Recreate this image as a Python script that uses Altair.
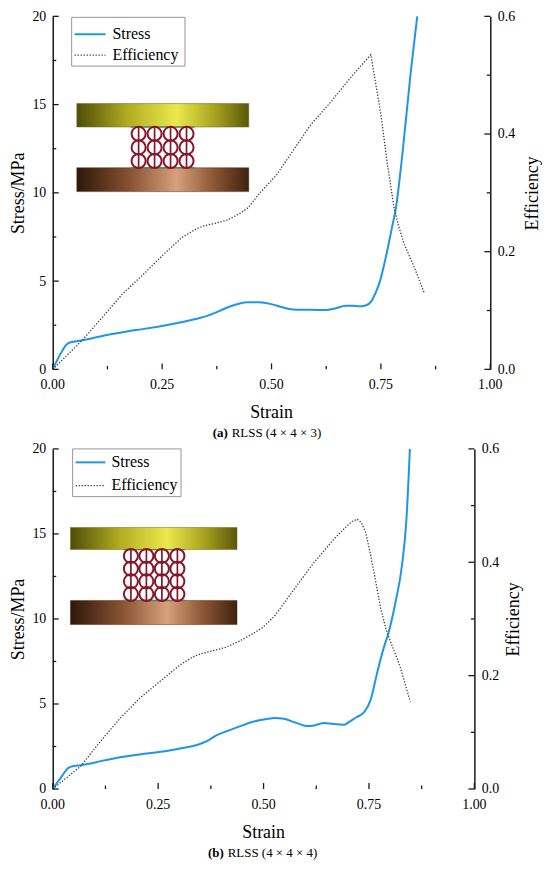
import altair as alt
import pandas as pd

SERIES = ["Stress", "Efficiency"]
PANEL_TAGS = ["(a)", "(b)"]
PANEL_NAMES = ["RLSS (4 × 4 × 3)", "RLSS (4 × 4 × 4)"]
X_TITLE = "Strain"

# ---- panel (a) data ----
A_STRAIN_S = [0, 0.015, 0.034, 0.05, 0.068, 0.10, 0.136, 0.17, 0.205, 0.24, 0.265, 0.30,
              0.326, 0.356, 0.38, 0.40, 0.425, 0.447, 0.47, 0.49, 0.511, 0.535, 0.56, 0.59,
              0.625, 0.645, 0.67, 0.685, 0.70, 0.715, 0.728, 0.739, 0.748, 0.757, 0.766,
              0.775, 0.784, 0.80, 0.818, 0.833]
A_STRESS = [0, 0.75, 1.46, 1.58, 1.65, 1.82, 2.0, 2.15, 2.28, 2.42, 2.53, 2.7,
            2.85, 3.06, 3.3, 3.52, 3.72, 3.8, 3.8, 3.75, 3.62, 3.45, 3.38, 3.38,
            3.36, 3.45, 3.6, 3.6, 3.57, 3.62, 3.85, 4.4, 5.0, 5.9, 6.9,
            8.0, 9.1, 12.4, 16.8, 20.0]
A_STRAIN_E = [0, 0.068, 0.114, 0.159, 0.205, 0.25, 0.295, 0.326, 0.345, 0.37, 0.40, 0.43,
              0.447, 0.47, 0.512, 0.553, 0.59, 0.636, 0.682, 0.727, 0.75, 0.765, 0.78,
              0.79, 0.803, 0.826, 0.849]
A_EFF = [0, 0.05, 0.089, 0.128, 0.16, 0.193, 0.224, 0.238, 0.244, 0.248, 0.254, 0.266,
         0.275, 0.297, 0.331, 0.376, 0.416, 0.455, 0.497, 0.535, 0.433, 0.348, 0.275,
         0.245, 0.213, 0.174, 0.13]

# ---- panel (b) data ----
B_STRAIN_S = [0, 0.02, 0.038, 0.05, 0.066, 0.09, 0.113, 0.145, 0.176, 0.21, 0.247, 0.28,
              0.302, 0.33, 0.349, 0.37, 0.388, 0.415, 0.443, 0.465, 0.49, 0.51, 0.526,
              0.545, 0.553, 0.567, 0.581, 0.595, 0.605, 0.62, 0.644, 0.665, 0.691, 0.705,
              0.72, 0.738, 0.754, 0.77, 0.785, 0.797, 0.813, 0.828, 0.839, 0.847]
B_STRESS = [0, 0.7, 1.26, 1.35, 1.4, 1.5, 1.64, 1.8, 1.93, 2.05, 2.16, 2.28,
            2.38, 2.52, 2.65, 2.88, 3.16, 3.42, 3.68, 3.88, 4.04, 4.13, 4.17,
            4.15, 4.1, 3.98, 3.86, 3.74, 3.7, 3.74, 3.88, 3.82, 3.78, 3.98,
            4.22, 4.5, 5.24, 6.9, 8.3, 9.24, 11.0, 13.1, 15.9, 20.0]
B_STRAIN_E = [0, 0.066, 0.113, 0.16, 0.206, 0.253, 0.302, 0.33, 0.349, 0.38, 0.41, 0.443,
              0.47, 0.498, 0.526, 0.573, 0.62, 0.667, 0.695, 0.71, 0.722, 0.732, 0.742,
              0.752, 0.762, 0.778, 0.79, 0.801, 0.817, 0.825, 0.848]
B_EFF = [0, 0.04, 0.084, 0.125, 0.16, 0.189, 0.219, 0.232, 0.238, 0.244, 0.25, 0.261,
         0.272, 0.285, 0.305, 0.353, 0.40, 0.441, 0.462, 0.472, 0.476, 0.47, 0.453,
         0.42, 0.382, 0.318, 0.283, 0.26, 0.23, 0.213, 0.154]

# ---- axes ----
X_TICKS = [0, 0.25, 0.5, 0.75, 1.0]
X_LABELS = ["0.00", "0.25", "0.50", "0.75", "1.00"]
X_MINOR = [0.125, 0.375, 0.625, 0.875]
Y_TICKS = [0, 5, 10, 15, 20]
Y_MINOR = [2.5, 7.5, 12.5, 17.5]
E_TICKS = [0, 0.2, 0.4, 0.6]
E_MINOR = [0.1, 0.3, 0.5]

# ---- inset (compression model sketch), in data coordinates ----
A_PLATE_X = [0.055, 0.448]
A_TOP_PLATE_Y = [13.73, 15.06]
A_LATTICE_X = [0.178, 0.324]
A_LATTICE_Y = [11.42, 13.73]
A_BOTTOM_PLATE_Y = [10.07, 11.42]
A_CELLS = [4, 3]

B_PLATE_X = [0.042, 0.437]
B_TOP_PLATE_Y = [14.08, 15.38]
B_LATTICE_X = [0.167, 0.314]
B_LATTICE_Y = [11.09, 14.08]
B_BOTTOM_PLATE_Y = [9.67, 11.09]
B_CELLS = [4, 4]

FONT = "Liberation Serif"
BLUE = "#1e96e6"
DOT = "#3a3a3a"
AX = "#1a1a1a"
LAT = "#861628"

YELLOW = {"gradient": "linear", "x1": 0, "x2": 1, "y1": 0, "y2": 0,
          "stops": [{"offset": 0, "color": "#4f4d08"}, {"offset": 0.3, "color": "#b3ae22"},
                    {"offset": 0.58, "color": "#ece84c"}, {"offset": 0.8, "color": "#a8a41f"},
                    {"offset": 1, "color": "#5a570b"}]}
BROWN = {"gradient": "linear", "x1": 0, "x2": 1, "y1": 0, "y2": 0,
         "stops": [{"offset": 0, "color": "#2e170a"}, {"offset": 0.3, "color": "#855030"},
                   {"offset": 0.58, "color": "#d8a07c"}, {"offset": 0.8, "color": "#8a5533"},
                   {"offset": 1, "color": "#40220f"}]}

PANELS = [
    dict(W=440, H=355, strain_s=A_STRAIN_S, stress=A_STRESS, strain_e=A_STRAIN_E, eff=A_EFF,
         plate_x=A_PLATE_X, top_y=A_TOP_PLATE_Y, lat_x=A_LATTICE_X, lat_y=A_LATTICE_Y,
         bot_y=A_BOTTOM_PLATE_Y, cells=A_CELLS,
         leg=dict(box=(19, 133, 1, 50), line=(22, 53), rows=(18, 39), tx=60),
         cap=(176, 180), tag=PANEL_TAGS[0], name=PANEL_NAMES[0], etp=9),
    dict(W=424, H=342, strain_s=B_STRAIN_S, stress=B_STRESS, strain_e=B_STRAIN_E, eff=B_EFF,
         plate_x=B_PLATE_X, top_y=B_TOP_PLATE_Y, lat_x=B_LATTICE_X, lat_y=B_LATTICE_Y,
         bot_y=B_BOTTOM_PLATE_Y, cells=B_CELLS,
         leg=dict(box=(20, 129, 0, 48), line=(23, 53), rows=(13.5, 37), tx=59),
         cap=(172, 176), tag=PANEL_TAGS[1], name=PANEL_NAMES[1], etp=6),
]


def one():
    return pd.DataFrame({"k": [0]})


def make_panel(p):
    W, H = p["W"], p["H"]
    xs = alt.Scale(domain=[0, 1], nice=False, zero=False)
    ys = alt.Scale(domain=[0, 20], nice=False, zero=False)
    es = alt.Scale(domain=[0, 0.6], nice=False, zero=False)

    sdf = pd.DataFrame({"strain": p["strain_s"], "value": p["stress"], "series": SERIES[0]})
    edf = pd.DataFrame({"strain": p["strain_e"], "value": p["eff"], "series": SERIES[1]})

    x_axis = alt.Axis(values=X_TICKS, labels=False, title=None, orient="bottom")
    y_axis = alt.Axis(values=Y_TICKS, format="d", title="Stress/MPa", labelPadding=7,
                      titlePadding=4, orient="left")
    e_axis = alt.Axis(values=E_TICKS, format=".1f", title="Efficiency", labelPadding=7,
                      titlePadding=p["etp"], orient="right", titleAngle=270,
                      titleBaseline="top")

    # inset sketch
    plates = pd.DataFrame({"x": [p["plate_x"][0]], "x2": [p["plate_x"][1]],
                           "yt": [p["top_y"][0]], "yt2": [p["top_y"][1]],
                           "yb": [p["bot_y"][0]], "yb2": [p["bot_y"][1]]})
    top_plate = alt.Chart(plates).mark_rect(fill=YELLOW, stroke="#6b6810", strokeWidth=0.5).encode(
        x=alt.X("x:Q", scale=xs, axis=None), x2="x2:Q",
        y=alt.Y("yt:Q", scale=ys, axis=None), y2="yt2:Q")
    bot_plate = alt.Chart(plates).mark_rect(fill=BROWN, stroke="#4a2a14", strokeWidth=0.5).encode(
        x=alt.X("x:Q", scale=xs, axis=None), x2="x2:Q",
        y=alt.Y("yb:Q", scale=ys, axis=None), y2="yb2:Q")
    cols, rows = p["cells"]
    lx0, lx1 = p["lat_x"]
    ly0, ly1 = p["lat_y"]
    cxs = [lx0 + (i + 0.5) * (lx1 - lx0) / cols for i in range(cols)]
    cys = [ly0 + (j + 0.5) * (ly1 - ly0) / rows for j in range(rows)]
    cells = pd.DataFrame([{"cx": cx, "cy": cy} for cx in cxs for cy in cys])
    circles = alt.Chart(cells).mark_point(shape="circle", filled=False, size=200,
                                          strokeWidth=2, color=LAT, opacity=1).encode(
        x=alt.X("cx:Q", scale=xs, axis=None), y=alt.Y("cy:Q", scale=ys, axis=None))
    vdf = pd.DataFrame({"cx": cxs, "y0": ly0, "y1": ly1})
    struts = alt.Chart(vdf).mark_rule(color=LAT, strokeWidth=1.7).encode(
        x=alt.X("cx:Q", scale=xs, axis=None),
        y=alt.Y("y0:Q", scale=ys, axis=None), y2="y1:Q")
    gdf = pd.DataFrame({"x0": lx0, "x1": lx1, "y": [ly0, ly1]})
    faces = alt.Chart(gdf).mark_rule(color="#4f8a6a", strokeWidth=1.4).encode(
        x=alt.X("x0:Q", scale=xs, axis=None), x2="x1:Q",
        y=alt.Y("y:Q", scale=ys, axis=None))

    stress_line = alt.Chart(sdf).mark_line(color=BLUE, strokeWidth=2,
                                           interpolate="monotone").encode(
        x=alt.X("strain:Q", scale=xs, axis=x_axis),
        y=alt.Y("value:Q", scale=ys, axis=y_axis))

    eff_line = alt.Chart(edf).mark_line(color=DOT, strokeWidth=1.3, strokeDash=[1.3, 1.7]).encode(
        x=alt.X("strain:Q", scale=xs, axis=x_axis),
        y=alt.Y("value:Q", scale=es, axis=e_axis))

    # inward ticks
    def yticks(vals, ln):
        return alt.Chart(pd.DataFrame({"v": vals})).mark_rule(color=AX, strokeWidth=1.3).encode(
            y=alt.Y("v:Q", scale=ys, axis=None), x=alt.value(0), x2=alt.value(ln))

    def xticks(vals, ln):
        return alt.Chart(pd.DataFrame({"v": vals})).mark_rule(color=AX, strokeWidth=1.3).encode(
            x=alt.X("v:Q", scale=xs, axis=None), y=alt.value(H), y2=alt.value(H - ln))

    def eticks(vals, ln):
        return alt.Chart(pd.DataFrame({"v": vals})).mark_rule(color=AX, strokeWidth=1.3).encode(
            y=alt.Y("v:Q", scale=es, axis=None), x=alt.value(W - ln), x2=alt.value(W))

    # x tick labels and title (text through the x scale)
    xlab = alt.Chart(pd.DataFrame({"v": X_TICKS, "t": X_LABELS})).mark_text(
        font=FONT, fontSize=14, align="center", baseline="middle", color="black").encode(
        x=alt.X("v:Q", scale=xs, axis=None), y=alt.value(H + 16), text="t:N")
    xtitle = alt.Chart(pd.DataFrame({"t": [X_TITLE]})).mark_text(
        font=FONT, fontSize=18, align="center", baseline="middle", color="black").encode(
        x=alt.value(W / 2), y=alt.value(H + 44), text="t:N")

    # legend box (drawn)
    lg = p["leg"]
    box = alt.Chart(one()).mark_rect(fill="white", stroke="#8a8a8a", strokeWidth=0.9).encode(
        x=alt.value(lg["box"][0]), x2=alt.value(lg["box"][1]),
        y=alt.value(lg["box"][2]), y2=alt.value(lg["box"][3]))
    leg_s = alt.Chart(one()).mark_rule(color=BLUE, strokeWidth=2).encode(
        x=alt.value(lg["line"][0]), x2=alt.value(lg["line"][1]), y=alt.value(lg["rows"][0]))
    leg_e = alt.Chart(one()).mark_rule(color=DOT, strokeWidth=1.3, strokeDash=[1.3, 1.7]).encode(
        x=alt.value(lg["line"][0]), x2=alt.value(lg["line"][1]), y=alt.value(lg["rows"][1]))
    leg_txt = []
    for i, s in enumerate(SERIES):
        leg_txt.append(alt.Chart(pd.DataFrame({"t": [s]})).mark_text(
            font=FONT, fontSize=16, align="left", baseline="middle", color="black").encode(
            text="t:N", x=alt.value(lg["tx"]), y=alt.value(lg["rows"][i] - 0.5)))

    cap_tag = alt.Chart(pd.DataFrame({"t": [p["tag"]]})).mark_text(
        font=FONT, fontSize=13, fontWeight="bold", align="right", baseline="middle",
        color="black").encode(text="t:N", x=alt.value(p["cap"][0]), y=alt.value(H + 64))
    cap_name = alt.Chart(pd.DataFrame({"t": [p["name"]]})).mark_text(
        font=FONT, fontSize=13, align="left", baseline="middle",
        color="black").encode(text="t:N", x=alt.value(p["cap"][1]), y=alt.value(H + 64))

    return alt.layer(stress_line, eff_line, top_plate, bot_plate, faces, struts, circles,
                     yticks(Y_TICKS, 6), yticks(Y_MINOR, 3.5),
                     xticks(X_TICKS, 6), xticks(X_MINOR, 3.5),
                     eticks(E_TICKS, 6), eticks(E_MINOR, 3.5),
                     xlab, xtitle,
                     box, leg_s, leg_e, *leg_txt, cap_tag, cap_name
                     ).resolve_scale(y="independent").properties(width=W, height=H)


chart = alt.vconcat(make_panel(PANELS[0]), make_panel(PANELS[1]), spacing=2).properties(
    padding={"left": 2, "top": -1, "right": 0, "bottom": 0}
).configure_view(stroke=None).configure_axis(
    labelFont=FONT, titleFont=FONT, labelFontSize=14, titleFontSize=18,
    titleFontWeight="normal", labelColor="black", titleColor="black",
    domainColor=AX, domainWidth=1.5, ticks=False, tickSize=0, grid=False
)

chart.save("out.html", embed_options={"renderer": "svg", "actions": False})
